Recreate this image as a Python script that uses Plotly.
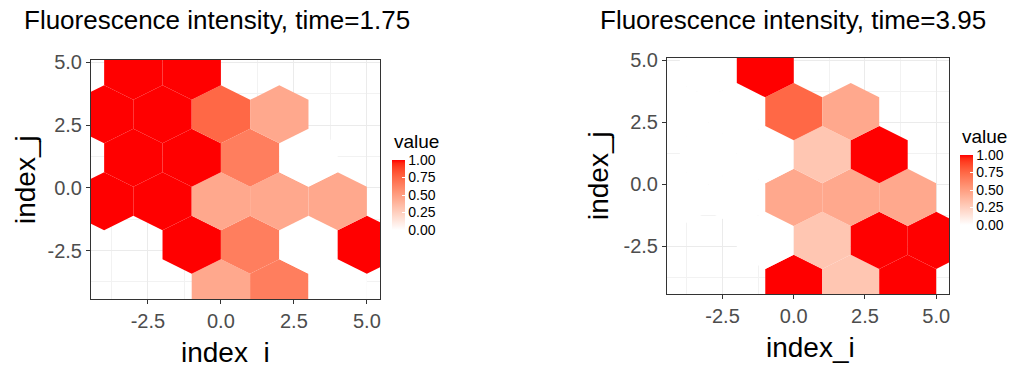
import math
import plotly.graph_objects as go

# ---------------- data ----------------
# hexagon bins: centre x (index_i) and row number (row r sits at index_j = -4 + r*sqrt(3))
hex_x = [0, 2, 4,
         -1, 1, 3, 5,
         -4, -2, 0, 2, 4,
         -3, -1, 1, 3,
         -4, -2, 0, 2,
         -3, -1]
hex_row = [0, 0, 0,
           1, 1, 1, 1,
           2, 2, 2, 2, 2,
           3, 3, 3, 3,
           4, 4, 4, 4,
           5, 5]
value_t175 = [0.45, 0.65, 0.0,
              1.0, 0.65, 0.0, 1.0,
              1.0, 1.0, 0.45, 0.45, 0.45,
              1.0, 1.0, 0.65, 0.0,
              1.0, 1.0, 0.75, 0.45,
              1.0, 1.0]
value_t395 = [1.0, 0.3, 1.0,
              0.0, 0.3, 1.0, 1.0,
              0.0, 0.0, 0.45, 0.45, 0.45,
              0.0, 0.0, 0.3, 1.0,
              0.0, 0.0, 0.75, 0.45,
              0.0, 1.0]
titles = ["Fluorescence intensity, time=1.75", "Fluorescence intensity, time=3.95"]
tick_vals = [-2.5, 0.0, 2.5, 5.0]
tick_text = ["-2.5", "0.0", "2.5", "5.0"]
legend_vals = [0.0, 0.25, 0.5, 0.75, 1.0]
legend_text = ["0.00", "0.25", "0.50", "0.75", "1.00"]

# ---------------- colour scale (white -> red, Lab interpolation like ggplot) ----------------
def lab_to_hex(L, a, b):
    fy_ = (L + 16) / 116
    fx_ = fy_ + a / 500
    fz_ = fy_ - b / 200
    def finv(t):
        return t ** 3 if t ** 3 > 0.008856 else (t - 16 / 116) / 7.787
    X, Y, Z = 0.95047 * finv(fx_), 1.0 * finv(fy_), 1.08883 * finv(fz_)
    r = 3.2406 * X - 1.5372 * Y - 0.4986 * Z
    g = -0.9689 * X + 1.8758 * Y + 0.0415 * Z
    bb = 0.0557 * X - 0.2040 * Y + 1.0570 * Z
    def gam(c):
        c = max(0.0, min(1.0, c))
        return 12.92 * c if c <= 0.0031308 else 1.055 * c ** (1 / 2.4) - 0.055
    return "#%02X%02X%02X" % tuple(int(round(gam(c) * 255)) for c in (r, g, bb))

LAB_WHITE = (100.0, 0.0, 0.0)
LAB_RED = (53.2408, 80.0925, 67.2032)

def colour(v):
    return lab_to_hex(*[w + (r - w) * v for w, r in zip(LAB_WHITE, LAB_RED)])

colorscale = [[k / 20, colour(k / 20)] for k in range(21)]

# ---------------- geometry helpers (page body has an 8px margin) ----------------
OFF = 8
W, H = 1020 - OFF, 365 - OFF
def fx(px):
    return (px - OFF) / W
def fy(py):
    return 1 - (py - OFF) / H

FONT = "Liberation Sans, Arial"
fig = go.Figure()

panels = [
    dict(vals=value_t175, xa="x", ya="y", box=(91, 380, 60, 299), cb=(392, 160, 230),
         cbt=(392, 141), title=(22, 20), xt=(225, 352), yt=(25, 180)),
    dict(vals=value_t395, xa="x2", ya="y2", box=(667, 949, 58, 294), cb=(960, 155, 225),
         cbt=(960, 136), title=(598, 20), xt=(810, 347), yt=(598, 176)),
]

SQ3 = math.sqrt(3)
dy = 1 / SQ3
offs = [(1, dy), (0, 2 * dy), (-1, dy), (-1, -dy), (0, -2 * dy), (1, -dy), (1, dy)]

for p_i, p in enumerate(panels):
    for cx, r, v in zip(hex_x, hex_row, p["vals"]):
        cy = -4 + r * SQ3
        fig.add_trace(go.Scatter(
            x=[cx + ox for ox, oy in offs], y=[cy + oy for ox, oy in offs],
            mode="lines", fill="toself", fillcolor=colour(v),
            line=dict(width=0, color=colour(v)), hoverinfo="skip", showlegend=False,
            xaxis=p["xa"], yaxis=p["ya"]))
    cbx, cbt, cbb = p["cb"]
    fig.add_trace(go.Scatter(
        x=[None], y=[None], mode="markers", xaxis=p["xa"], yaxis=p["ya"], showlegend=False,
        marker=dict(color=[0, 1], cmin=0, cmax=1, colorscale=colorscale, showscale=True, size=0,
                    colorbar=dict(
                        x=fx(cbx), xanchor="left", y=fy((cbt + cbb) / 2), yanchor="middle",
                        len=cbb - cbt, lenmode="pixels", thickness=13, thicknessmode="pixels",
                        xpad=0, ypad=0, outlinewidth=0,
                        tickvals=legend_vals, ticktext=legend_text, ticks="inside",
                        ticklen=3, tickcolor="white", tickwidth=1,
                        tickfont=dict(family=FONT, size=14, color="black")))))
    tx, ty = p["cbt"]
    fig.add_annotation(text="value", x=fx(tx), y=fy(ty), xref="paper", yref="paper",
                       xanchor="left", yanchor="middle", showarrow=False,
                       font=dict(family=FONT, size=19, color="black"))

    x0, x1, yt, yb = p["box"]
    sfx = "" if p_i == 0 else "2"
    axis_common = dict(
        showline=True, mirror=True, linecolor="#333333", linewidth=1,
        ticks="outside", ticklen=4, tickcolor="#333333", tickwidth=1,
        tickvals=tick_vals, ticktext=tick_text, automargin=False,
        tickfont=dict(family=FONT, size=20, color="#4D4D4D"),
        showgrid=True, gridcolor="#EBEBEB", gridwidth=1.2, zeroline=False,
        minor=dict(tickvals=[-3.75, -1.25, 1.25, 3.75], showgrid=True, gridcolor="#F2F2F2",
                   gridwidth=0.6, ticks=""),
    )
    fig.layout["xaxis" + sfx] = dict(axis_common, domain=[fx(x0), fx(x1)], range=[-4.45, 5.45],
                                     anchor="y" + sfx)
    fig.layout["yaxis" + sfx] = dict(axis_common, domain=[fy(yb), fy(yt)],
                                     range=[-4.433, 5.093], anchor="x" + sfx)

    tx, ty = p["title"]
    fig.add_annotation(text=titles[p_i], x=fx(tx), y=fy(ty), xref="paper", yref="paper",
                       xanchor="left", yanchor="middle", showarrow=False,
                       font=dict(family=FONT, size=26, color="black"))
    ax, ay = p["xt"]
    fig.add_annotation(text="index_i", x=fx(ax), y=fy(ay), xref="paper", yref="paper",
                       xanchor="center", yanchor="middle", showarrow=False,
                       font=dict(family=FONT, size=28, color="black"))
    jx, jy = p["yt"]
    fig.add_annotation(text="index_j", x=fx(jx), y=fy(jy), xref="paper", yref="paper",
                       xanchor="center", yanchor="middle", showarrow=False, textangle=-90,
                       font=dict(family=FONT, size=28, color="black"))

fig.update_layout(template="none", width=W, height=H, margin=dict(l=0, r=0, t=0, b=0, pad=0),
                  paper_bgcolor="white", plot_bgcolor="white", showlegend=False)

fig.write_html("out.html")
